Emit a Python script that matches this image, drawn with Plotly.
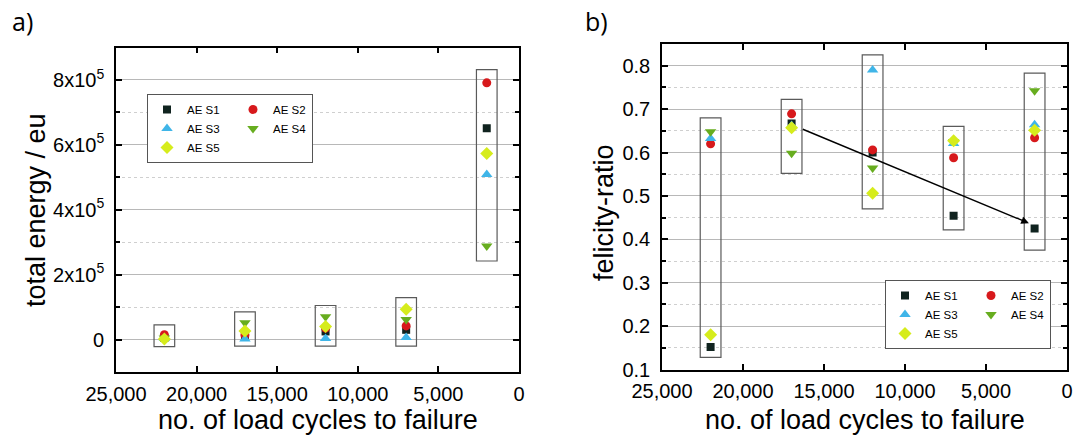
import plotly.graph_objects as go

# ---------------- data ----------------
cycles = [22000, 17000, 12000, 7000, 2000]
series_names = ["AE S1", "AE S2", "AE S3", "AE S4", "AE S5"]

energy_S1 = [5e3, 1.0e4, 2.5e4, 3.0e4, 6.51e5]
energy_S2 = [1.5e4, 1.4e4, 3.5e4, 4.2e4, 7.91e5]
energy_S3 = [3e3, 2e3, 3e3, 6e3, 5.09e5]
energy_S4 = [5e3, 5.2e4, 7.0e4, 6.2e4, 2.88e5]
energy_S5 = [2e3, 2.6e4, 4.0e4, 9.3e4, 5.73e5]

felicity_S1 = [0.152, 0.667, 0.600, 0.454, 0.425]
felicity_S2 = [0.620, 0.689, 0.606, 0.588, 0.634]
felicity_S3 = [0.632, 0.662, 0.790, 0.621, 0.664]
felicity_S4 = [0.648, 0.598, 0.564, 0.625, 0.742]
felicity_S5 = [0.180, 0.657, 0.506, 0.627, 0.651]

energy_box_low = [-2.2e4, -2.0e4, -2.0e4, -2.0e4, 2.42e5]
energy_box_high = [4.5e4, 8.5e4, 1.05e5, 1.29e5, 8.32e5]
felicity_box_low = [0.128, 0.552, 0.470, 0.4215, 0.375]
felicity_box_high = [0.680, 0.7225, 0.825, 0.660, 0.783]

arrow_start = (16400, 0.655)
arrow_end = (2350, 0.437)

x_tickvals = [25000, 20000, 15000, 10000, 5000, 0]
x_ticktext = ["25,000", "20,000", "15,000", "10,000", "5,000", "0"]
energy_tickvals = [0, 2e5, 4e5, 6e5, 8e5]
energy_ticktext = ["0", "2x10<sup>5</sup>", "4x10<sup>5</sup>", "6x10<sup>5</sup>", "8x10<sup>5</sup>"]
energy_minorvals = [-1e5, 1e5, 3e5, 5e5, 7e5, 9e5]
felicity_tickvals = [0.1, 0.2, 0.3, 0.4, 0.5, 0.6, 0.7, 0.8]
felicity_ticktext = ["0.1", "0.2", "0.3", "0.4", "0.5", "0.6", "0.7", "0.8"]
felicity_minorvals = [0.15, 0.25, 0.35, 0.45, 0.55, 0.65, 0.75, 0.85]

# ---------------- style ----------------
colors = ["#10231f", "#d7191c", "#3fb5e8", "#67ad1f", "#d6ec1c"]
symbols = ["square", "circle", "triangle-up", "triangle-down", "diamond"]
sizes = [8, 9, 10, 10, 10]
FONT = "Liberation Sans, Arial, sans-serif"
W, H = 1073, 438
BOX_HALF = 640

energy = [energy_S1, energy_S2, energy_S3, energy_S4, energy_S5]
felicity = [felicity_S1, felicity_S2, felicity_S3, felicity_S4, felicity_S5]

fig = go.Figure()
for i, name in enumerate(series_names):
    col_group = "a" if i % 2 == 0 else "b"
    kw = dict(legendwidth=41) if i % 2 == 0 else {}
    fig.add_trace(go.Scatter(
        x=cycles, y=energy[i], mode="markers", name=name,
        marker=dict(symbol=symbols[i], color=colors[i], size=sizes[i], line=dict(width=0)),
        xaxis="x", yaxis="y", legend="legend", legendgroup="L" + col_group, **kw))
for i, name in enumerate(series_names):
    col_group = "a" if i % 2 == 0 else "b"
    kw = dict(legendwidth=41) if i % 2 == 0 else {}
    fig.add_trace(go.Scatter(
        x=cycles, y=felicity[i], mode="markers", name=name,
        marker=dict(symbol=symbols[i], color=colors[i], size=sizes[i], line=dict(width=0)),
        xaxis="x2", yaxis="y2", legend="legend2", legendgroup="R" + col_group, **kw))

shapes = []
for c, lo, hi in zip(cycles, energy_box_low, energy_box_high):
    shapes.append(dict(type="rect", xref="x", yref="y", x0=c - BOX_HALF, x1=c + BOX_HALF,
                       y0=lo, y1=hi, line=dict(color="#5a5a5a", width=1.2), layer="between"))
for c, lo, hi in zip(cycles, felicity_box_low, felicity_box_high):
    shapes.append(dict(type="rect", xref="x2", yref="y2", x0=c - BOX_HALF, x1=c + BOX_HALF,
                       y0=lo, y1=hi, line=dict(color="#5a5a5a", width=1.2), layer="between"))

def px(xp):
    return xp / W

def py(yp):
    return 1 - yp / H

axis_common = dict(
    showline=True, linecolor="black", linewidth=1.6, mirror="allticks",
    ticks="inside", ticklen=6, tickwidth=1.5, tickcolor="black", automargin=False,
    tickfont=dict(family=FONT, size=20, color="black"), zeroline=False,
)

xaxis_common = dict(axis_common, range=[25000, 0], tickmode="array",
                    tickvals=x_tickvals, ticktext=x_ticktext, showgrid=False,
                    ticklabelstandoff=3)

minor_common = dict(tickmode="array", ticks="inside", ticklen=4, tickcolor="black",
                    showgrid=True, gridcolor="#cfcfcf", griddash="dot", gridwidth=1)

fig.update_layout(
    template="plotly",
    width=W, height=H, margin=dict(l=0, r=0, t=0, b=0, autoexpand=False),
    paper_bgcolor="white", plot_bgcolor="white",
    font=dict(family=FONT, color="black"),
    xaxis=dict(xaxis_common, domain=[px(116), px(519)], anchor="y"),
    yaxis=dict(axis_common, domain=[py(372), py(47.5)], anchor="x",
               range=[-1e5, 9e5], tickmode="array", tickvals=energy_tickvals,
               ticktext=energy_ticktext, showgrid=True, gridcolor="#b8b8b8", gridwidth=1.4,
               ticklabelstandoff=6,
               minor=dict(minor_common, tickvals=energy_minorvals)),
    xaxis2=dict(xaxis_common, domain=[px(662), px(1067)], anchor="y2"),
    yaxis2=dict(axis_common, domain=[py(369.5), py(44)], anchor="x2",
                range=[0.1, 0.85], tickmode="array", tickvals=felicity_tickvals,
                ticktext=felicity_ticktext, showgrid=True, gridcolor="#b8b8b8", gridwidth=1.4,
                ticklabelstandoff=6,
                minor=dict(minor_common, tickvals=felicity_minorvals)),
    legend=dict(x=px(147), y=py(94), xanchor="left", yanchor="top",
                orientation="h", bgcolor="white", bordercolor="#555555", borderwidth=1,
                font=dict(family=FONT, size=11.5, color="black"), itemwidth=30),
    legend2=dict(x=px(885), y=py(349), xanchor="left", yanchor="bottom",
                 orientation="h", bgcolor="white", bordercolor="#555555", borderwidth=1,
                 font=dict(family=FONT, size=11.5, color="black"), itemwidth=30),
    shapes=shapes,
    showlegend=True,
)

TITLE_SIZE = 27
annotations = [
    dict(text="no. of load cycles to failure", x=px(317.5), y=py(437), xref="paper", yref="paper",
         showarrow=False, font=dict(family=FONT, size=TITLE_SIZE, color="black"), xanchor="center", yanchor="bottom"),
    dict(text="no. of load cycles to failure", x=px(864.5), y=py(437), xref="paper", yref="paper",
         showarrow=False, font=dict(family=FONT, size=TITLE_SIZE, color="black"), xanchor="center", yanchor="bottom"),
    dict(text="total energy / eu", x=px(36), y=py(210), xref="paper", yref="paper", textangle=-90,
         showarrow=False, font=dict(family=FONT, size=TITLE_SIZE, color="black"), xanchor="center", yanchor="middle"),
    dict(text="felicity-ratio", x=px(604), y=py(213), xref="paper", yref="paper", textangle=-90,
         showarrow=False, font=dict(family=FONT, size=TITLE_SIZE, color="black"), xanchor="center", yanchor="middle"),
    dict(text="a)", x=px(22), y=py(21), xref="paper", yref="paper",
         showarrow=False, font=dict(family="Open Sans, sans-serif", size=25, color="black"),
         xanchor="center", yanchor="middle"),
    dict(text="b)", x=px(596), y=py(21), xref="paper", yref="paper",
         showarrow=False, font=dict(family="Open Sans, sans-serif", size=25, color="black"),
         xanchor="center", yanchor="middle"),
    dict(text="", x=arrow_end[0], y=arrow_end[1], ax=arrow_start[0], ay=arrow_start[1],
         xref="x2", yref="y2", axref="x2", ayref="y2", showarrow=True,
         arrowhead=2, arrowsize=1.1, arrowwidth=1.4, arrowcolor="black", standoff=0),
]
fig.update_layout(annotations=annotations)

fig.write_html("out.html")
